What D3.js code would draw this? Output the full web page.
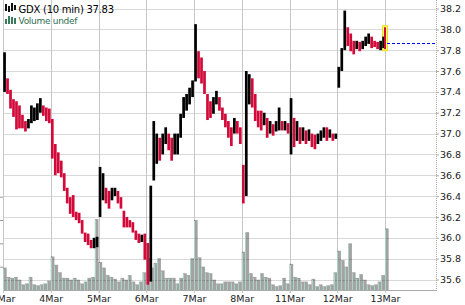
<!DOCTYPE html>
<html><head><meta charset="utf-8">
<script src="https://cdn.jsdelivr.net/npm/d3@7"></script>
<style>
html,body{margin:0;padding:0;background:#fff;}
svg{display:block;}
text{font-family:"DejaVu Sans",Verdana,sans-serif;}
</style></head>
<body><div id="chart"></div>
<script>
// ---- data ----
const dayLabels = ["1Mar","4Mar","5Mar","6Mar","7Mar","8Mar","11Mar","12Mar","13Mar"];
const priceTicks = [35.6,35.8,36.0,36.2,36.4,36.6,36.8,37.0,37.2,37.4,37.6,37.8,38.0,38.2];
const symbol = "GDX (10 min)";
const lastPrice = 37.83;
const prevClose = 37.87;
// 16 price bars per day (high / low)
const hi = [
 37.78,37.53,37.42,37.33,37.31,37.27,37.18,37.12,37.14,37.27,37.25,37.29,37.34,37.27,37.25,37.24,
 37.14,36.90,36.82,36.74,36.62,36.48,36.39,36.41,36.25,36.24,36.17,36.05,36.04,35.98,36.00,36.01,
 36.68,36.62,36.48,36.45,36.48,36.48,36.45,36.39,36.26,36.20,36.17,36.15,36.07,36.04,36.03,36.04,
 35.95,36.50,37.12,37.00,36.96,37.00,37.06,37.00,36.96,37.00,37.00,37.19,37.35,37.38,37.44,37.51,
 38.05,37.79,37.73,37.60,37.38,37.31,37.35,37.41,37.35,37.25,37.19,37.12,37.06,37.15,37.12,37.06,
 36.70,37.60,37.57,37.53,37.38,37.22,37.22,37.20,37.15,37.12,37.09,37.12,37.25,37.12,37.12,37.10,
 37.34,37.15,37.12,37.06,37.06,37.03,37.04,37.00,36.99,37.00,37.03,37.06,37.06,37.04,37.00,37.00,
 37.64,37.82,38.18,38.02,37.96,37.89,37.89,37.88,37.89,37.93,37.96,37.93,37.89,37.88,37.89,37.93,
 38.02];
const lo = [
 37.40,37.38,37.24,37.16,37.04,37.05,37.05,37.02,37.05,37.10,37.12,37.13,37.20,37.17,37.12,37.10,
 36.76,36.60,36.62,36.58,36.45,36.33,36.23,36.20,36.17,36.14,36.04,35.96,35.93,35.90,35.90,35.91,
 36.20,36.36,36.33,36.28,36.36,36.40,36.33,36.28,36.10,36.10,36.10,36.05,35.98,35.95,35.96,35.79,
 35.55,35.58,36.55,36.71,36.74,36.80,36.90,36.84,36.74,36.80,36.80,36.96,37.15,37.22,37.28,37.35,
 37.50,37.53,37.48,37.38,37.13,37.15,37.19,37.28,37.22,37.13,37.06,36.96,36.88,37.00,37.00,36.90,
 36.33,36.40,37.28,37.25,37.12,37.06,37.03,37.08,36.96,37.00,36.98,37.02,37.03,37.03,37.03,37.00,
 36.80,36.87,36.93,36.90,36.93,36.90,36.93,36.87,36.85,36.90,36.93,36.96,36.93,36.96,36.93,36.95,
 37.44,37.60,37.80,37.84,37.79,37.76,37.81,37.79,37.81,37.84,37.86,37.82,37.83,37.81,37.80,37.82,
 37.81];
// 13 volume bars per day (relative units)
const volume = [
 24,14,13,14,11,6,7,14,6,5,6,7,10,
 36,27,19,13,13,11,13,11,7,9,13,14,76,
 30,24,16,14,12,9,13,11,16,9,6,9,19,
 34,24,29,34,21,13,13,13,7,13,18,16,34,
 75,35,25,19,18,11,7,7,9,9,9,7,9,
 41,62,18,14,11,18,14,13,6,4,5,13,7,
 28,14,13,9,9,6,12,4,6,4,5,6,19,
 42,32,25,50,19,13,17,11,6,5,6,9,16,
 66];
const volTicks = [25,50,75,100];

// ---- chart ----
const W = 465, H = 305;
const left = 3, right = 436, bottom = 290;
const barsPerDay = 16, volPerDay = 13;

const svg = d3.select("#chart").append("svg").attr("width", W).attr("height", H);

const x = d3.scaleLinear().domain([0, 8]).range([left, 385]);
const y = d3.scaleLinear().domain([35.6, 38.2]).range([279.5, 8.5]);
const yv = d3.scaleLinear().domain([0, 100]).range([bottom, bottom - 93.3]);

// horizontal grid
svg.append("g").selectAll("line").data(priceTicks).join("line")
  .attr("x1", left).attr("x2", right)
  .attr("y1", d => Math.round(y(d)) + 0.5).attr("y2", d => Math.round(y(d)) + 0.5)
  .attr("stroke", "#d9d9d9");

// vertical grid
svg.append("g").selectAll("line").data(d3.range(dayLabels.length)).join("line")
  .attr("x1", d => Math.round(x(d)) + 0.5).attr("x2", d => Math.round(x(d)) + 0.5)
  .attr("y1", 0).attr("y2", bottom + 3)
  .attr("stroke", "#c6c6c6");

// volume
const vw = x(1 / volPerDay) - x(0);
const vg = svg.append("g");
vg.selectAll("rect").data(volume).join("rect")
  .attr("x", (d, i) => x(i / volPerDay))
  .attr("width", vw)
  .attr("y", d => yv(d))
  .attr("height", d => bottom - yv(d))
  .attr("fill", "#000").attr("fill-opacity", 0.36);
vg.selectAll("line").data(volume).join("line")
  .attr("x1", (d, i) => Math.round(x(i / volPerDay)) + 0.5)
  .attr("x2", (d, i) => Math.round(x(i / volPerDay)) + 0.5)
  .attr("y1", d => yv(d) + 1).attr("y2", bottom)
  .attr("stroke", "#a9d3c5");

// left volume axis ticks
svg.append("g").attr("transform", `translate(${left},0)`)
  .call(d3.axisLeft(yv).tickValues(volTicks).tickSize(3).tickFormat(""))
  .call(g => g.select(".domain").remove())
  .call(g => g.selectAll(".tick line").attr("stroke", "#999"));

// price bars
const n = hi.length;
const mids = hi.map((h, i) => (h + lo[i]) / 2);
const bars = hi.map((h, i) => {
  const close = i === n - 1 ? lastPrice : mids[i];
  const prev = i === n - 1 ? prevClose : (i > 0 ? mids[i - 1] : mids[0]);
  return { i, h, l: lo[i], up: close >= prev };
});

// highlight last bar
const last = bars[n - 1];
svg.append("rect")
  .attr("x", x(last.i / barsPerDay) - 2.5)
  .attr("y", y(last.h) - 1.5)
  .attr("width", 5).attr("height", y(last.l) - y(last.h) + 3)
  .attr("fill", "#ffff90").attr("stroke", "#f2e000").attr("stroke-width", 1);

svg.append("g").selectAll("rect").data(bars).join("rect")
  .attr("x", d => d.i === n - 1 ? x(d.i / barsPerDay) - 1 : x(d.i / barsPerDay) + 0.2)
  .attr("width", d => d.i === n - 1 ? 2 : 2.7)
  .attr("y", d => y(d.h))
  .attr("height", d => Math.max(1, y(d.l) - y(d.h)))
  .attr("fill", d => d.up ? "#000" : "#d20a3a");

// previous close dashed line
svg.append("line")
  .attr("x1", x(8) + 2).attr("x2", right)
  .attr("y1", Math.round(y(prevClose)) + 0.5).attr("y2", Math.round(y(prevClose)) + 0.5)
  .attr("stroke", "#0000ee").attr("stroke-dasharray", "3,2");

// right border (dotted)
svg.append("line").attr("x1", right + 0.5).attr("x2", right + 0.5).attr("y1", 0).attr("y2", bottom)
  .attr("stroke", "#aaa").attr("stroke-dasharray", "1,1");

// right price axis
svg.append("g").attr("transform", `translate(${right},0)`)
  .call(d3.axisRight(y).tickValues(priceTicks).tickSize(3).tickPadding(1).tickFormat(d3.format(".1f")))
  .call(g => g.select(".domain").remove())
  .call(g => g.selectAll(".tick line").attr("stroke", "#aaa"))
  .call(g => g.selectAll("text").attr("font-size", 9.5).attr("fill", "#222")
                .attr("font-family", "DejaVu Sans"));

// bottom axis
svg.append("line").attr("x1", left).attr("x2", right + 1).attr("y1", bottom + 0.5).attr("y2", bottom + 0.5)
  .attr("stroke", "#aaa");
svg.append("g").attr("transform", `translate(0,${bottom})`)
  .call(d3.axisBottom(x).tickValues(d3.range(dayLabels.length)).tickSize(3).tickPadding(2)
         .tickFormat(i => dayLabels[i]))
  .call(g => g.select(".domain").remove())
  .call(g => g.selectAll(".tick line").attr("stroke", "#c6c6c6"))
  .call(g => g.selectAll("text").attr("font-size", 9.5).attr("fill", "#222")
                .attr("font-family", "DejaVu Sans"));

// legend
const lg = svg.append("g");
[[5,4,2,7],[8,6,2,6],[11,3,2,8],[14,5,2,5]].forEach(r =>
  lg.append("rect").attr("x", r[0]).attr("y", r[1]).attr("width", r[2]).attr("height", r[3]).attr("fill", "#111"));
lg.append("text").attr("x", 18.5).attr("y", 13).attr("font-size", 10).attr("letter-spacing", -0.25)
  .attr("fill", "#000").text(symbol + " " + lastPrice.toFixed(2));
[[5,19,2,5],[8,16,2,8],[11,17,2,7],[14,18,2,6]].forEach(r =>
  lg.append("rect").attr("x", r[0]).attr("y", r[1]).attr("width", r[2]).attr("height", r[3]).attr("fill", "#3b7a5c"));
lg.append("text").attr("x", 18.5).attr("y", 23.5).attr("font-size", 9).attr("letter-spacing", -0.3)
  .attr("fill", "#2e6e50").text("Volume undef");
</script>
</body></html>
